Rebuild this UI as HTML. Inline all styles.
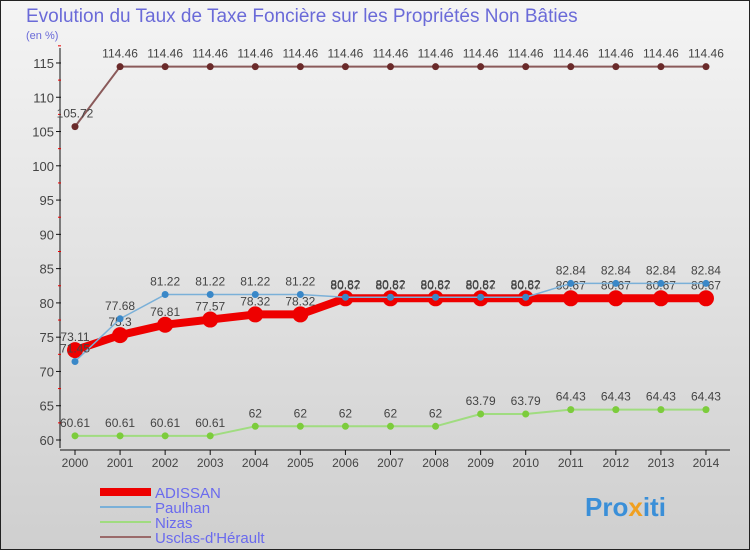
<!DOCTYPE html>
<html><head><meta charset="utf-8"><style>
body{margin:0;width:750px;height:550px;overflow:hidden;font-family:"Liberation Sans",sans-serif}
</style></head><body>
<svg id="c" width="750" height="550" xmlns="http://www.w3.org/2000/svg">
<defs><linearGradient id="bg" x1="0" y1="0" x2="0" y2="1"><stop offset="0" stop-color="#f4f4f4"/><stop offset="1" stop-color="#cfcfcf"/></linearGradient></defs>
<rect x="0.5" y="0.5" width="749" height="549" fill="url(#bg)" stroke="#222"/>
<text x="26" y="22" font-size="19" fill="#6a6ad8">Evolution du Taux de Taxe Foncière sur les Propriétés Non Bâties</text>
<text x="26" y="39" font-size="11" fill="#6a6ad8">(en %)</text>
<g id="axes"></g><g id="series"></g><g id="legend"></g>
<text x="585" y="516" font-size="26" font-weight="bold" fill="#3a8fd8">Pro<tspan fill="#f0a020">x</tspan>iti</text>
</svg>
<script>
const years=[2000,2001,2002,2003,2004,2005,2006,2007,2008,2009,2010,2011,2012,2013,2014];
const yTicks=[60,65,70,75,80,85,90,95,100,105,110,115];
const adissan=[73.11,75.3,76.81,77.57,78.32,78.32,80.67,80.67,80.67,80.67,80.67,80.67,80.67,80.67,80.67];
const paulhan=[71.45,77.68,81.22,81.22,81.22,81.22,80.82,80.82,80.82,80.82,80.82,82.84,82.84,82.84,82.84];
const nizas=[60.61,60.61,60.61,60.61,62,62,62,62,62,63.79,63.79,64.43,64.43,64.43,64.43];
const usclas=[105.72,114.46,114.46,114.46,114.46,114.46,114.46,114.46,114.46,114.46,114.46,114.46,114.46,114.46,114.46];
const NS="http://www.w3.org/2000/svg";
const X=i=>75+i*45.07;
const Y=v=>440-(v-60)*6.855;
function mk(t,a,p){const e=document.createElementNS(NS,t);for(const k in a)e.setAttribute(k,a[k]);p.appendChild(e);return e;}
const ax=document.getElementById('axes');
let l=mk('line',{x1:60,y1:48,x2:60,y2:448,stroke:'#111'},ax);


l=mk('line',{x1:60,y1:450,x2:730,y2:450,stroke:'#111'},ax);


yTicks.forEach(v=>{
 mk('line',{x1:56,y1:Y(v),x2:61,y2:Y(v),stroke:'#111'},ax);
 mk('line',{x1:58,y1:Y(v+2.5),x2:61,y2:Y(v+2.5),stroke:'#e00'},ax);
 const t=mk('text',{x:54,y:Y(v)+5,'font-size':13,'text-anchor':'end',fill:'#444'},ax);t.textContent=v;
 
 
});
years.forEach((y,i)=>{
 mk('line',{x1:X(i),y1:450,x2:X(i),y2:455,stroke:'#111'},ax);
 const t=mk('text',{x:X(i),y:467,'font-size':12,'text-anchor':'middle',fill:'#444'},ax);t.textContent=y;
 
 
});
const sg=document.getElementById('series');
function series(d,name,col,w,r,dot){
 const g=mk('g',{},sg);
 
 
 mk('polyline',{points:d.map((v,i)=>X(i)+','+Y(v)).join(' '),fill:'none',stroke:col,'stroke-width':w,'stroke-linejoin':'round'},g);
 d.forEach((v,i)=>{
  const c=mk('circle',{cx:X(i),cy:Y(v),r:r,fill:dot},g);
  
  
  const t=mk('text',{x:X(i),y:Y(v)-9,'font-size':12,'text-anchor':'middle',fill:'#444'},g);
  t.textContent=String(v);
  
  
 });
}
series(nizas,'nizas','#a0dc80',2,3.5,'#7ccc3c');
series(usclas,'usclas','#8a5a5a',2,3.5,'#6a2a2a');
series(adissan,'adissan','#ee0000',8,8,'#ee0000');
series(paulhan,'paulhan','#7ab0d8',1.5,3.5,'#3a88c8');
const lg=document.getElementById('legend');
[['ADISSAN','#ee0000',8],['Paulhan','#7ab0d8',2],['Nizas','#a0dc80',2],["Usclas-d'Hérault",'#9a6a6a',2]].forEach((e,i)=>{
 const y=492+i*15;
 const g=mk('g',{},lg);
 
 
 mk('line',{x1:100,y1:y,x2:151,y2:y,stroke:e[1],'stroke-width':e[2]},g);
 const t=mk('text',{x:155,y:y+6,'font-size':15,fill:'#6a6aee'},g);t.textContent=e[0];
});
</script>
</body></html>
